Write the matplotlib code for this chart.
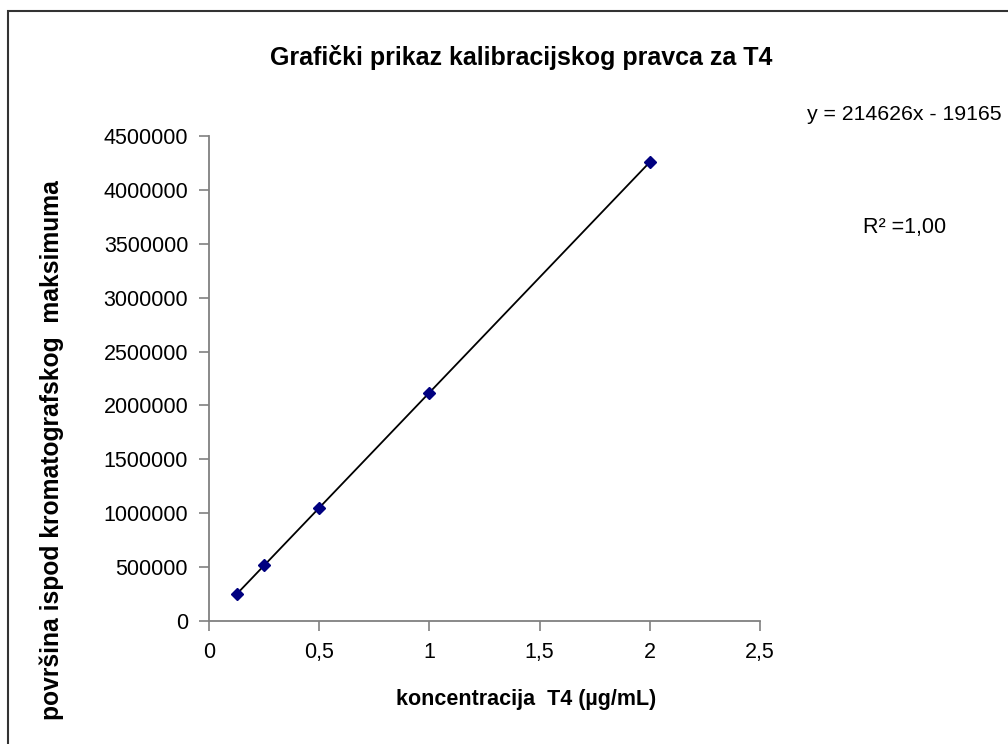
import numpy as np
import matplotlib
matplotlib.use("Agg")
import matplotlib.pyplot as plt
from matplotlib.patches import Rectangle

plt.rcParams['font.family'] = ['Liberation Sans', 'DejaVu Sans']

# Data
concentration = [0.125, 0.25, 0.5, 1.0, 2.0]
area = [249000, 517000, 1046000, 2120000, 4258000]
x_ticks = [0, 0.5, 1, 1.5, 2, 2.5]
x_ticklabels = ["0", "0,5", "1", "1,5", "2", "2,5"]
y_ticks = [0, 500000, 1000000, 1500000, 2000000, 2500000, 3000000, 3500000, 4000000, 4500000]
y_ticklabels = [str(v) for v in y_ticks]

title = "Grafički prikaz kalibracijskog pravca za T4"
xlabel = "koncentracija  T4 (µg/mL)"
ylabel = "površina ispod kromatografskog  maksimuma"
equation = "y = 214626x - 19165"
r2_text = "R² =1,00"

W, H = 1008, 744
fig = plt.figure(figsize=(W / 100, H / 100), dpi=100)

# border (only top/left visible in the crop)
fig.patches.append(Rectangle((7.5 / W, -0.1), 1.2, 1 - 11 / H + 0.1, transform=fig.transFigure,
                             fill=False, edgecolor='#333333', linewidth=1.5))

ax = fig.add_axes([209 / W, 1 - 621 / H, (760 - 209) / W, (621 - 136) / H])

# trendline
coef = np.polyfit(concentration, area, 1)
xs = np.array([min(concentration), max(concentration)])
ax.plot(xs, np.polyval(coef, xs), color='black', linewidth=1.3, zorder=2)
ax.plot(concentration, area, linestyle='none', marker='D', markersize=6.5,
        color='#000080', zorder=3)

ax.set_xlim(0, 2.5)
ax.set_ylim(0, 4500000)
ax.set_xticks(x_ticks)
ax.set_xticklabels(x_ticklabels)
ax.set_yticks(y_ticks)
ax.set_yticklabels(y_ticklabels)

for s in ['top', 'right']:
    ax.spines[s].set_visible(False)
for s in ['left', 'bottom']:
    ax.spines[s].set_color('#808080')
    ax.spines[s].set_linewidth(1.3)
ax.tick_params(axis='both', direction='out', length=7, width=1.2, color='#808080',
               labelsize=15.5, labelcolor='black')
ax.tick_params(axis='x', pad=8)
ax.tick_params(axis='y', pad=8)

fig.text(526 / W, 1 - 700 / H, xlabel, fontsize=15.5, fontweight='bold',
         ha='center', va='center')
fig.text(52 / W, 1 - 450 / H, ylabel, fontsize=17.7, fontweight='bold',
         ha='center', va='center', rotation=90)

fig.text(521 / W, 1 - 57 / H, title, fontsize=18, fontweight='bold',
         ha='center', va='center')
fig.text(807 / W, 1 - 115 / H, equation, fontsize=15.3, ha='left', va='center')
fig.text(863 / W, 1 - 228 / H, r2_text, fontsize=15.5, ha='left', va='center')

fig.savefig("out.png", dpi=100, facecolor='white')
